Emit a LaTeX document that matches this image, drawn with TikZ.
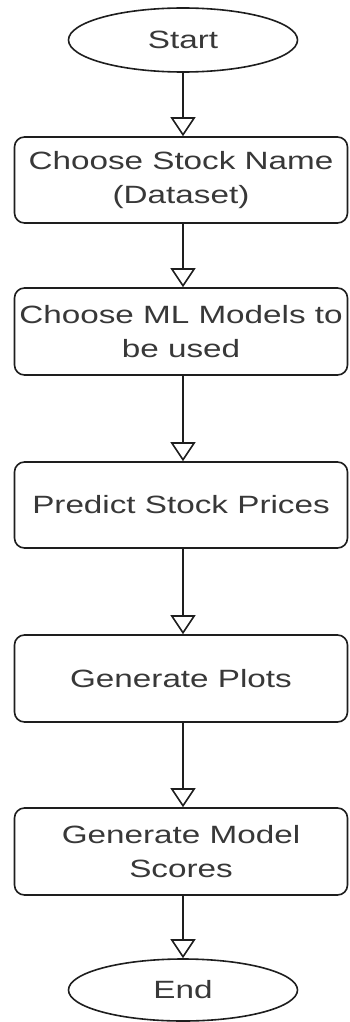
\documentclass[tikz,border=0pt]{standalone}
\usepackage{fontspec}
\setmainfont{Liberation Sans}
\usepackage{graphicx}
\usetikzlibrary{shapes.geometric,arrows.meta}
\definecolor{txt}{HTML}{383838}
\definecolor{ln}{HTML}{1E1E1E}
\newcommand\sx[1]{\scalebox{1.33}[1]{#1}}
\begin{document}
\begin{tikzpicture}[x=1pt,y=-1pt,
  every node/.style={font=\fontsize{25}{33.5}\selectfont, text=txt, align=center},
  term/.style={ellipse, draw=ln, line width=1.6pt, fill=white, inner sep=0pt},
  stepbox/.style={rectangle, rounded corners=10pt, draw=ln, line width=1.6pt, fill=white,
     minimum width=333pt, inner sep=0pt},
  flow/.style={draw=ln, line width=1.6pt, -{Triangle[open, length=19pt, width=25pt, line width=1.6pt]}}]
\useasboundingbox (0,0) rectangle (349,1022);
\fill[white] (0,0) rectangle (349,1022);
\node[term, minimum width=229pt, minimum height=64pt] (start) at (183,40) {\sx{Start}};
\node[stepbox, minimum height=86pt] (b1) at (181,180) {\sx{Choose Stock Name}\\\sx{(Dataset)}};
\node[stepbox, minimum height=87pt] (b2) at (181,331.5) {\sx{Choose ML Models to}\\\sx{be used}};
\node[stepbox, minimum height=86pt] (b3) at (181,505) {\sx{Predict Stock Prices}};
\node[stepbox, minimum height=87pt] (b4) at (181,678.5) {\sx{Generate Plots}};
\node[stepbox, minimum height=87pt] (b5) at (181,851.5) {\sx{Generate Model}\\\sx{Scores}};
\node[term, minimum width=229pt, minimum height=62pt] (end) at (183,990) {\sx{End}};
\draw[flow] (start.south) -- (start.south |- b1.north);
\draw[flow] (start.south |- b1.south) -- (start.south |- b2.north);
\draw[flow] (start.south |- b2.south) -- (start.south |- b3.north);
\draw[flow] (start.south |- b3.south) -- (start.south |- b4.north);
\draw[flow] (start.south |- b4.south) -- (start.south |- b5.north);
\draw[flow] (start.south |- b5.south) -- (end.north);
\end{tikzpicture}
\end{document}
